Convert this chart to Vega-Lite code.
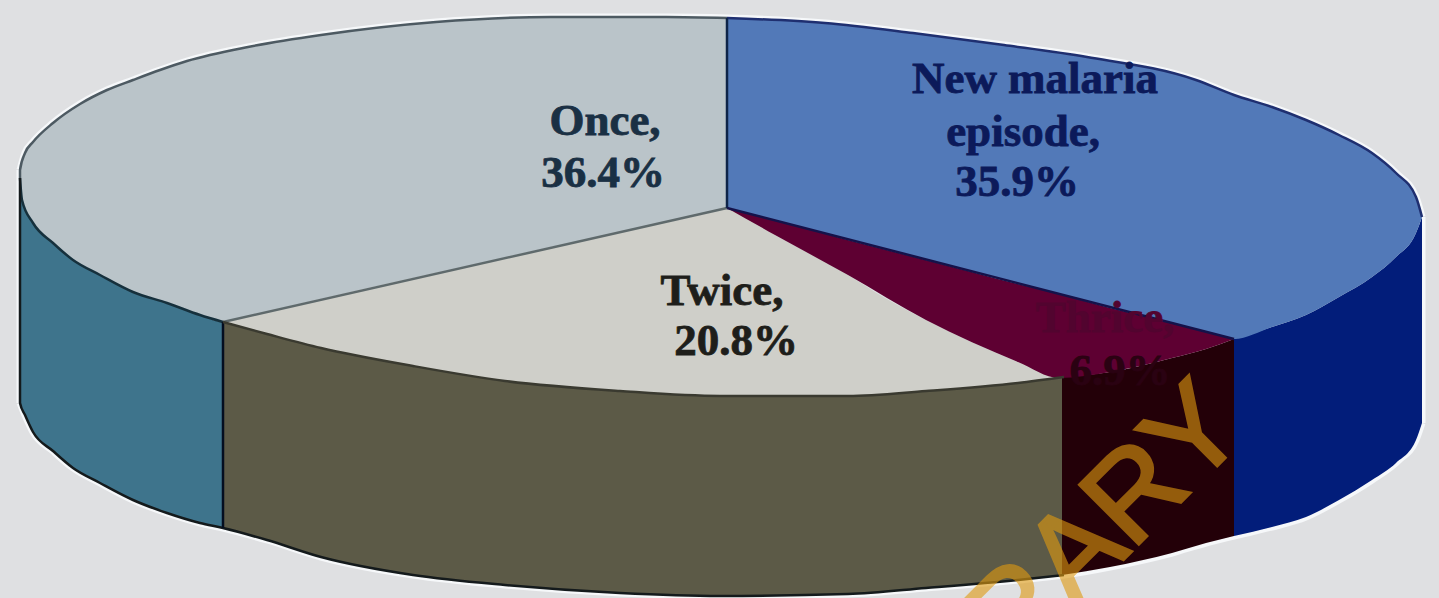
{
  "$schema": "https://vega.github.io/schema/vega-lite/v6.json",
  "width": 1439,
  "height": 598,
  "padding": 0,
  "autosize": {"type": "none"},
  "background": "#dfe0e2",
  "view": {"stroke": null},
  "datasets": {
    "rim": [
      {"part":"left","seq":1,"x":20,"y":170},{"part":"left","seq":2,"x":20,"y":403},
      {"part":"right","seq":1,"x":1422,"y":217},{"part":"right","seq":2,"x":1422,"y":423},
      {"part":"upper","seq":1,"x":20,"y":170},{"part":"upper","seq":2,"x":25,"y":153},{"part":"upper","seq":3,"x":33,"y":142},{"part":"upper","seq":4,"x":53,"y":123},{"part":"upper","seq":5,"x":80,"y":104},{"part":"upper","seq":6,"x":107,"y":90},{"part":"upper","seq":7,"x":133,"y":80},{"part":"upper","seq":8,"x":160,"y":70},{"part":"upper","seq":9,"x":187,"y":61},{"part":"upper","seq":10,"x":248,"y":47},{"part":"upper","seq":11,"x":321,"y":35},{"part":"upper","seq":12,"x":436,"y":22},{"part":"upper","seq":13,"x":551,"y":17},{"part":"upper","seq":14,"x":666,"y":17},{"part":"upper","seq":15,"x":727,"y":18},{"part":"upper","seq":16,"x":825,"y":23},{"part":"upper","seq":17,"x":913,"y":33},{"part":"upper","seq":18,"x":1004,"y":45},{"part":"upper","seq":19,"x":1087,"y":57},{"part":"upper","seq":20,"x":1196,"y":80},{"part":"upper","seq":21,"x":1234,"y":95},{"part":"upper","seq":22,"x":1272,"y":107},{"part":"upper","seq":23,"x":1306,"y":120},{"part":"upper","seq":24,"x":1339,"y":135},{"part":"upper","seq":25,"x":1372,"y":153},{"part":"upper","seq":26,"x":1396,"y":173},{"part":"upper","seq":27,"x":1416,"y":197},{"part":"upper","seq":28,"x":1422,"y":217},
      {"part":"lower","seq":1,"x":20,"y":403},{"part":"lower","seq":2,"x":25,"y":415},{"part":"lower","seq":3,"x":33,"y":432},{"part":"lower","seq":4,"x":53,"y":451},{"part":"lower","seq":5,"x":73,"y":468},{"part":"lower","seq":6,"x":100,"y":483},{"part":"lower","seq":7,"x":133,"y":500},{"part":"lower","seq":8,"x":167,"y":513},{"part":"lower","seq":9,"x":200,"y":523},{"part":"lower","seq":10,"x":223,"y":528},{"part":"lower","seq":11,"x":267,"y":540},{"part":"lower","seq":12,"x":321,"y":557},{"part":"lower","seq":13,"x":413,"y":575},{"part":"lower","seq":14,"x":505,"y":585},{"part":"lower","seq":15,"x":620,"y":593},{"part":"lower","seq":16,"x":720,"y":596},{"part":"lower","seq":17,"x":848,"y":594},{"part":"lower","seq":18,"x":926,"y":588},{"part":"lower","seq":19,"x":1018,"y":580},{"part":"lower","seq":20,"x":1064,"y":575},{"part":"lower","seq":21,"x":1110,"y":567},{"part":"lower","seq":22,"x":1172,"y":553},{"part":"lower","seq":23,"x":1206,"y":543},{"part":"lower","seq":24,"x":1234,"y":536},{"part":"lower","seq":25,"x":1272,"y":527},{"part":"lower","seq":26,"x":1306,"y":517},{"part":"lower","seq":27,"x":1339,"y":500},{"part":"lower","seq":28,"x":1372,"y":480},{"part":"lower","seq":29,"x":1399,"y":460},{"part":"lower","seq":30,"x":1416,"y":440},{"part":"lower","seq":31,"x":1422,"y":423}
    ],
    "faces": [
      {"face":"Once side","x":20,"y":178,"y2":403},{"face":"Once side","x":22,"y":200,"y2":408},{"face":"Once side","x":25,"y":208,"y2":415},{"face":"Once side","x":33,"y":223,"y2":432},{"face":"Once side","x":53,"y":243,"y2":451},{"face":"Once side","x":73,"y":260,"y2":468},{"face":"Once side","x":100,"y":275,"y2":483},{"face":"Once side","x":133,"y":292,"y2":500},{"face":"Once side","x":167,"y":303,"y2":513},{"face":"Once side","x":200,"y":315,"y2":523},{"face":"Once side","x":223,"y":322,"y2":528},
      {"face":"Twice side","x":223,"y":322,"y2":528},{"face":"Twice side","x":267,"y":334,"y2":540},{"face":"Twice side","x":321,"y":348,"y2":557},{"face":"Twice side","x":413,"y":366,"y2":575},{"face":"Twice side","x":505,"y":381,"y2":585},{"face":"Twice side","x":620,"y":391,"y2":593},{"face":"Twice side","x":720,"y":396,"y2":596},{"face":"Twice side","x":848,"y":396,"y2":594},{"face":"Twice side","x":926,"y":391,"y2":588},{"face":"Twice side","x":1018,"y":383,"y2":580},{"face":"Twice side","x":1064,"y":377,"y2":575},
      {"face":"Thrice side","x":1062,"y":377,"y2":575},{"face":"Thrice side","x":1110,"y":372,"y2":567},{"face":"Thrice side","x":1172,"y":358,"y2":553},{"face":"Thrice side","x":1206,"y":349,"y2":543},{"face":"Thrice side","x":1234,"y":339,"y2":536},
      {"face":"New malaria episode side","x":1234,"y":339,"y2":536},{"face":"New malaria episode side","x":1272,"y":327,"y2":527},{"face":"New malaria episode side","x":1306,"y":315,"y2":517},{"face":"New malaria episode side","x":1339,"y":297,"y2":500},{"face":"New malaria episode side","x":1372,"y":277,"y2":480},{"face":"New malaria episode side","x":1396,"y":257,"y2":463},{"face":"New malaria episode side","x":1416,"y":233,"y2":440},{"face":"New malaria episode side","x":1422,"y":217,"y2":423},
      {"face":"Once","x":20,"y":170,"y2":185},{"face":"Once","x":22,"y":160,"y2":200},{"face":"Once","x":25,"y":153,"y2":208},{"face":"Once","x":33,"y":142,"y2":223},{"face":"Once","x":53,"y":123,"y2":243},{"face":"Once","x":73,"y":108,"y2":260},{"face":"Once","x":100,"y":93,"y2":275},{"face":"Once","x":133,"y":80,"y2":292},{"face":"Once","x":167,"y":68,"y2":303},{"face":"Once","x":200,"y":58,"y2":315},{"face":"Once","x":223,"y":52,"y2":322},{"face":"Once","x":248,"y":47,"y2":316},{"face":"Once","x":321,"y":35,"y2":299},{"face":"Once","x":436,"y":22,"y2":273},{"face":"Once","x":551,"y":17,"y2":247},{"face":"Once","x":666,"y":17,"y2":222},{"face":"Once","x":727,"y":18,"y2":208},
      {"face":"New malaria episode","x":727,"y":18,"y2":208},{"face":"New malaria episode","x":825,"y":23,"y2":233},{"face":"New malaria episode","x":913,"y":33,"y2":256},{"face":"New malaria episode","x":1004,"y":45,"y2":280},{"face":"New malaria episode","x":1087,"y":57,"y2":302},{"face":"New malaria episode","x":1196,"y":80,"y2":330},{"face":"New malaria episode","x":1234,"y":95,"y2":339},{"face":"New malaria episode","x":1272,"y":107,"y2":327},{"face":"New malaria episode","x":1306,"y":120,"y2":315},{"face":"New malaria episode","x":1339,"y":135,"y2":297},{"face":"New malaria episode","x":1372,"y":153,"y2":277},{"face":"New malaria episode","x":1396,"y":173,"y2":257},{"face":"New malaria episode","x":1416,"y":197,"y2":233},{"face":"New malaria episode","x":1422,"y":217,"y2":217},
      {"face":"Twice","x":223,"y":322,"y2":322},{"face":"Twice","x":267,"y":312,"y2":334},{"face":"Twice","x":321,"y":299,"y2":348},{"face":"Twice","x":413,"y":278,"y2":366},{"face":"Twice","x":505,"y":258,"y2":381},{"face":"Twice","x":620,"y":232,"y2":391},{"face":"Twice","x":720,"y":210,"y2":396},{"face":"Twice","x":727,"y":208,"y2":396},{"face":"Twice","x":775,"y":235,"y2":396},{"face":"Twice","x":848,"y":275,"y2":396},{"face":"Twice","x":885,"y":298,"y2":394},{"face":"Twice","x":926,"y":320,"y2":391},{"face":"Twice","x":1018,"y":362,"y2":383},{"face":"Twice","x":1059,"y":378,"y2":378},
      {"face":"Thrice","x":727,"y":208,"y2":208},{"face":"Thrice","x":775,"y":220,"y2":235},{"face":"Thrice","x":848,"y":240,"y2":275},{"face":"Thrice","x":926,"y":260,"y2":320},{"face":"Thrice","x":1018,"y":284,"y2":362},{"face":"Thrice","x":1059,"y":294,"y2":378},{"face":"Thrice","x":1110,"y":308,"y2":372},{"face":"Thrice","x":1172,"y":323,"y2":358},{"face":"Thrice","x":1206,"y":332,"y2":349},{"face":"Thrice","x":1234,"y":339,"y2":339}
    ],
    "edges": [
      {"edge":"once rim","seq":1,"x":20,"y":178},{"edge":"once rim","seq":2,"x":20,"y":170},{"edge":"once rim","seq":3,"x":25,"y":153},{"edge":"once rim","seq":4,"x":33,"y":142},{"edge":"once rim","seq":5,"x":53,"y":123},{"edge":"once rim","seq":6,"x":80,"y":104},{"edge":"once rim","seq":7,"x":107,"y":90},{"edge":"once rim","seq":8,"x":133,"y":80},{"edge":"once rim","seq":9,"x":160,"y":70},{"edge":"once rim","seq":10,"x":187,"y":61},{"edge":"once rim","seq":11,"x":248,"y":47},{"edge":"once rim","seq":12,"x":321,"y":35},{"edge":"once rim","seq":13,"x":436,"y":22},{"edge":"once rim","seq":14,"x":551,"y":17},{"edge":"once rim","seq":15,"x":666,"y":17},{"edge":"once rim","seq":16,"x":727,"y":18},
      {"edge":"once spoke","seq":1,"x":223,"y":322},{"edge":"once spoke","seq":2,"x":727,"y":208},
      {"edge":"once crest","seq":1,"x":20,"y":178},{"edge":"once crest","seq":2,"x":22,"y":200},{"edge":"once crest","seq":3,"x":33,"y":223},{"edge":"once crest","seq":4,"x":53,"y":243},{"edge":"once crest","seq":5,"x":73,"y":260},{"edge":"once crest","seq":6,"x":100,"y":275},{"edge":"once crest","seq":7,"x":133,"y":292},{"edge":"once crest","seq":8,"x":167,"y":303},{"edge":"once crest","seq":9,"x":200,"y":315},{"edge":"once crest","seq":10,"x":223,"y":322},
      {"edge":"malaria rim","seq":1,"x":727,"y":18},{"edge":"malaria rim","seq":2,"x":825,"y":23},{"edge":"malaria rim","seq":3,"x":913,"y":33},{"edge":"malaria rim","seq":4,"x":1004,"y":45},{"edge":"malaria rim","seq":5,"x":1087,"y":57},{"edge":"malaria rim","seq":6,"x":1196,"y":80},{"edge":"malaria rim","seq":7,"x":1234,"y":95},{"edge":"malaria rim","seq":8,"x":1272,"y":107},{"edge":"malaria rim","seq":9,"x":1306,"y":120},{"edge":"malaria rim","seq":10,"x":1339,"y":135},{"edge":"malaria rim","seq":11,"x":1372,"y":153},{"edge":"malaria rim","seq":12,"x":1396,"y":173},{"edge":"malaria rim","seq":13,"x":1416,"y":197},{"edge":"malaria rim","seq":14,"x":1422,"y":217},
      {"edge":"malaria divider","seq":1,"x":727,"y":18},{"edge":"malaria divider","seq":2,"x":727,"y":208},
      {"edge":"malaria spoke","seq":1,"x":727,"y":208},{"edge":"malaria spoke","seq":2,"x":1234,"y":339},
      {"edge":"wall outline","seq":1,"x":20,"y":178},{"edge":"wall outline","seq":2,"x":20,"y":403},{"edge":"wall outline","seq":3,"x":25,"y":415},{"edge":"wall outline","seq":4,"x":33,"y":432},{"edge":"wall outline","seq":5,"x":53,"y":451},{"edge":"wall outline","seq":6,"x":73,"y":468},{"edge":"wall outline","seq":7,"x":100,"y":483},{"edge":"wall outline","seq":8,"x":133,"y":500},{"edge":"wall outline","seq":9,"x":167,"y":513},{"edge":"wall outline","seq":10,"x":200,"y":523},{"edge":"wall outline","seq":11,"x":223,"y":528},{"edge":"wall outline","seq":12,"x":267,"y":540},{"edge":"wall outline","seq":13,"x":321,"y":557},{"edge":"wall outline","seq":14,"x":413,"y":575},{"edge":"wall outline","seq":15,"x":505,"y":585},{"edge":"wall outline","seq":16,"x":620,"y":593},{"edge":"wall outline","seq":17,"x":720,"y":596},{"edge":"wall outline","seq":18,"x":848,"y":594},{"edge":"wall outline","seq":19,"x":926,"y":588},{"edge":"wall outline","seq":20,"x":1018,"y":580},{"edge":"wall outline","seq":21,"x":1064,"y":575},
      {"edge":"wall divider","seq":1,"x":223,"y":322},{"edge":"wall divider","seq":2,"x":223,"y":528},
      {"edge":"twice front","seq":1,"x":223,"y":322},{"edge":"twice front","seq":2,"x":267,"y":334},{"edge":"twice front","seq":3,"x":321,"y":348},{"edge":"twice front","seq":4,"x":413,"y":366},{"edge":"twice front","seq":5,"x":505,"y":381},{"edge":"twice front","seq":6,"x":620,"y":391},{"edge":"twice front","seq":7,"x":720,"y":396},{"edge":"twice front","seq":8,"x":848,"y":396},{"edge":"twice front","seq":9,"x":926,"y":391},{"edge":"twice front","seq":10,"x":1018,"y":383},{"edge":"twice front","seq":11,"x":1064,"y":377}
    ],
    "labels": [
      {"line":"Thrice,","tone":"thrice name","x":1105,"y":332},
      {"line":"6.9%","tone":"thrice share","x":1120,"y":385},
      {"line":"Once,","tone":"once","x":605,"y":135},
      {"line":"36.4%","tone":"once","x":603,"y":187},
      {"line":"New malaria","tone":"malaria","x":1035,"y":93},
      {"line":"episode,","tone":"malaria","x":1023,"y":146},
      {"line":"35.9%","tone":"malaria","x":1017,"y":196},
      {"line":"Twice,","tone":"twice","x":722,"y":305},
      {"line":"20.8%","tone":"twice","x":736,"y":355}
    ],
    "stamp": [
      {"word":"LIBRARY","x":1250,"y":433}
    ]
  },
  "resolve": {"scale": {"color": "independent", "stroke": "independent"}},
  "layer": [
    {
      "data": {"name": "rim"},
      "mark": {"type": "line", "interpolate": "monotone", "strokeWidth": 7, "color": "#f6f8fa"},
      "encoding": {
        "x": {"field": "x", "type": "quantitative", "scale": {"domain": [0, 1439], "nice": false, "zero": false}, "axis": null},
        "y": {"field": "y", "type": "quantitative", "scale": {"domain": [0, 598], "reverse": true, "nice": false, "zero": false}, "axis": null},
        "detail": {"field": "part"},
        "order": {"field": "seq", "type": "quantitative"}
      }
    },
    {
      "data": {"name": "faces"},
      "mark": {"type": "area", "interpolate": "monotone"},
      "encoding": {
        "x": {"field": "x", "type": "quantitative"},
        "y": {"field": "y", "type": "quantitative"},
        "y2": {"field": "y2"},
        "color": {
          "field": "face",
          "type": "nominal",
          "legend": null,
          "scale": {
            "domain": ["Once side", "Twice side", "Thrice side", "New malaria episode side", "Once", "New malaria episode", "Twice", "Thrice"],
            "range": ["#3e748c", "#5c5a47", "#230008", "#021d7a", "#bac4c9", "#5279b8", "#cfcfc9", "#5e0032"]
          }
        }
      }
    },
    {
      "data": {"name": "edges"},
      "mark": {"type": "line", "interpolate": "monotone"},
      "encoding": {
        "x": {"field": "x", "type": "quantitative"},
        "y": {"field": "y", "type": "quantitative"},
        "order": {"field": "seq", "type": "quantitative"},
        "stroke": {
          "field": "edge",
          "type": "nominal",
          "legend": null,
          "scale": {
            "domain": ["once rim", "once spoke", "once crest", "malaria rim", "malaria divider", "malaria spoke", "wall outline", "wall divider", "twice front"],
            "range": ["#4d5a62", "#5f6a6c", "#16303c", "#1f2f70", "#0e2448", "#14124a", "#141a1c", "#040e20", "#3a3a30"]
          }
        },
        "strokeWidth": {
          "field": "edge",
          "type": "nominal",
          "legend": null,
          "scale": {
            "domain": ["once rim", "once spoke", "once crest", "malaria rim", "malaria divider", "malaria spoke", "wall outline", "wall divider", "twice front"],
            "range": [2.5, 2.5, 1.5, 1.5, 2.5, 3, 2.5, 4, 2]
          }
        }
      }
    },
    {
      "data": {"name": "labels"},
      "mark": {"type": "text", "font": "Liberation Serif", "fontWeight": "bold", "fontSize": 45, "align": "center", "baseline": "alphabetic", "strokeWidth": 0.8},
      "encoding": {
        "x": {"field": "x", "type": "quantitative"},
        "y": {"field": "y", "type": "quantitative"},
        "text": {"field": "line"},
        "color": {
          "field": "tone",
          "type": "nominal",
          "legend": null,
          "scale": {
            "domain": ["thrice name", "thrice share", "once", "malaria", "twice"],
            "range": ["#52042f", "#2a0212", "#1a3044", "#0c1a5a", "#1e1e1a"]
          }
        },
        "stroke": {
          "field": "tone",
          "type": "nominal",
          "legend": null,
          "scale": {
            "domain": ["thrice name", "thrice share", "once", "malaria", "twice"],
            "range": ["#52042f", "#2a0212", "#1a3044", "#0c1a5a", "#1e1e1a"]
          }
        }
      }
    },
    {
      "data": {"name": "stamp"},
      "mark": {"type": "text", "font": "Liberation Sans", "fontSize": 122, "align": "right", "baseline": "alphabetic", "angle": 315, "clip": true, "fill": "#e09a10", "stroke": "#e09a10", "strokeWidth": 3, "opacity": 0.6},
      "encoding": {
        "x": {"field": "x", "type": "quantitative"},
        "y": {"field": "y", "type": "quantitative"},
        "text": {"field": "word"}
      }
    }
  ]
}
